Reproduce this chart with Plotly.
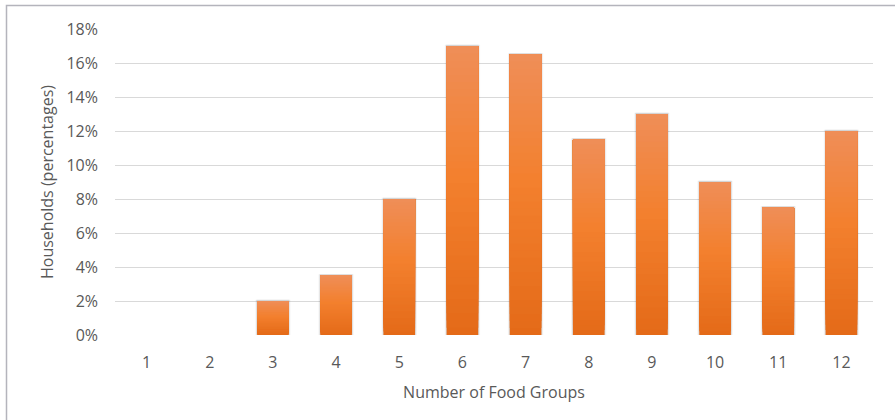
import plotly.graph_objects as go

# Share of households by number of food groups consumed
food_groups = ["1", "2", "3", "4", "5", "6", "7", "8", "9", "10", "11", "12"]
households_pct = [0, 0, 2.0, 3.5, 8.0, 17.0, 16.5, 11.5, 13.0, 9.0, 7.5, 12.0]
y_ticks = [0, 2, 4, 6, 8, 10, 12, 14, 16, 18]
y_tick_labels = [f"{v}%" for v in y_ticks]

# Vertical gradient for each bar: bottom -> middle -> top
GRAD_STOPS = [(0.0, (228, 106, 24)), (0.55, (243, 128, 46)), (1.0, (239, 142, 88))]
N_STEPS = 40


def grad_color(t):
    for (t0, c0), (t1, c1) in zip(GRAD_STOPS, GRAD_STOPS[1:]):
        if t <= t1:
            f = (t - t0) / (t1 - t0)
            r, g, b = (round(a + (b_ - a) * f) for a, b_ in zip(c0, c1))
            return f"rgb({r},{g},{b})"
    r, g, b = GRAD_STOPS[-1][1]
    return f"rgb({r},{g},{b})"


fig = go.Figure()

# Soft shadow behind the bars
for w, a in [(0.56, 0.04), (0.535, 0.06), (0.515, 0.08)]:
    fig.add_trace(go.Bar(
        x=food_groups, y=[v + (0.12 if v > 0 else 0) for v in households_pct],
        base=[-0.05 if v > 0 else 0 for v in households_pct],
        width=w, marker=dict(color=f"rgba(0,0,0,{a})", line=dict(width=0)),
        hoverinfo="skip", showlegend=False,
    ))

# Each bar is painted as overlapping layers whose base climbs toward the top
for k in range(N_STEPS):
    frac = k / N_STEPS
    fig.add_trace(go.Bar(
        x=food_groups,
        y=[v * (1 - frac) for v in households_pct],
        base=[v * frac for v in households_pct],
        width=0.5,
        marker=dict(color=grad_color((k + 0.5) / N_STEPS), line=dict(width=0)),
        hoverinfo="skip" if k else None,
        showlegend=False,
    ))

font_family = "'Open Sans', sans-serif"
fig.update_layout(
    barmode="overlay",
    width=895, height=420,
    margin=dict(l=115, r=22, t=29, b=85),
    paper_bgcolor="white", plot_bgcolor="white",
    font=dict(family=font_family, size=16, color="#595959"),
    xaxis=dict(
        type="category", showgrid=False, zeroline=False, showline=False,
        ticks="", ticklabelstandoff=16,
        title=dict(text="Number of Food Groups", standoff=14,
                   font=dict(size=16, color="#595959")),
    ),
    yaxis=dict(
        range=[0, 18], tickvals=y_ticks, ticktext=y_tick_labels,
        showgrid=True, gridcolor="#d9d9d9", gridwidth=1.3,
        zeroline=False, showline=False, ticks="", ticklabelstandoff=16,
        title=dict(text="Households (percentages)", standoff=8,
                   font=dict(size=16, color="#595959")),
    ),
    shapes=[dict(
        type="rect", xref="paper", yref="paper",
        x0=(6.5 - 115) / 758, x1=(905 - 115) / 758,
        y0=(335 - 430) / 306, y1=(335 - 5.5) / 306,
        line=dict(color="#b4b4bc", width=1.5), fillcolor="rgba(0,0,0,0)",
        layer="above",
    )],
)

fig.write_html("out.html")
